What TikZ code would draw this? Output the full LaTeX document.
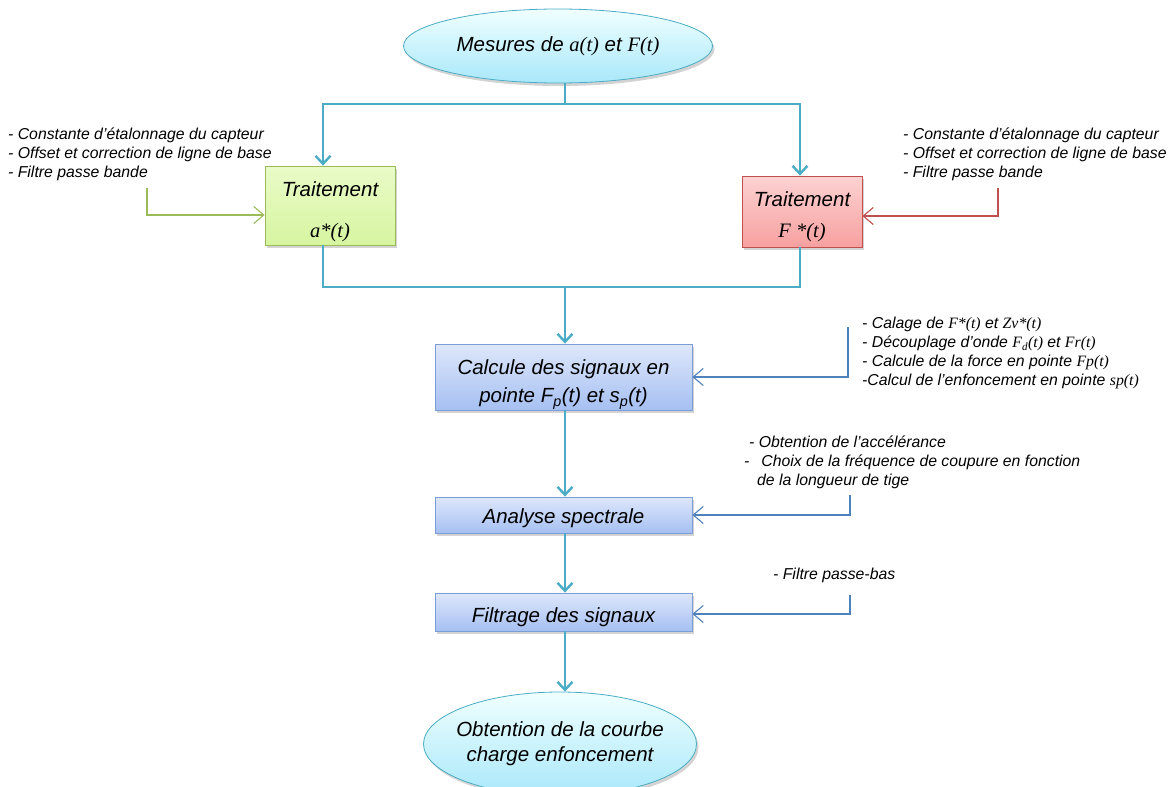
\documentclass[tikz,border=0pt]{standalone}
\usepackage{fontspec}
\setmainfont{Liberation Sans}
\newfontfamily\tms{Liberation Serif}
\usetikzlibrary{arrows.meta,shadows,shapes.geometric}

\definecolor{flowcyan}{RGB}{75,172,198}
\definecolor{notegreen}{RGB}{155,187,89}
\definecolor{notered}{RGB}{192,80,77}
\definecolor{noteblue}{RGB}{79,129,189}
\definecolor{boxblue}{RGB}{122,157,214}

% Times italic for the signals
\newcommand{\tm}[1]{{\tms\itshape #1}}
% pushes a box text down
\newcommand{\lowr}[1]{\rule{0pt}{#1}}

\tikzset{
  flow/.style={draw=flowcyan, line width=2.6pt, -{Straight Barb[length=8pt,width=15pt,line width=2.4pt]}},
  flowline/.style={draw=flowcyan, line width=2.6pt},
  note/.style={line width=1.1pt, -{Straight Barb[length=10pt,width=17pt,line width=1.1pt]}},
  endpt/.style={ellipse, draw=flowcyan, line width=0.8pt, top color=cyan!6, bottom color={rgb,255:red,169;green,232;blue,250},
    drop shadow={shadow xshift=2pt,shadow yshift=-3pt,opacity=0.35}, align=center,
    font=\fontsize{20.5}{25}\selectfont\itshape, inner sep=0pt},
  stepbox/.style={rectangle, draw=boxblue, line width=0.8pt, top color={rgb,255:red,222;green,231;blue,251},
    bottom color={rgb,255:red,166;green,192;blue,242}, minimum width=257pt, align=center,
    drop shadow={shadow xshift=2pt,shadow yshift=-3pt,opacity=0.35},
    font=\fontsize{20.5}{28}\selectfont\itshape, inner sep=0pt},
  list/.style={anchor=north west, align=left, inner sep=0pt, font=\fontsize{15.8}{19}\selectfont\itshape}
}

\begin{document}
\begin{tikzpicture}[x=1pt, y=-1pt]
    \useasboundingbox (0,0) rectangle (1171,787);

    % measurements
    \node[endpt, minimum width=309pt, minimum height=74pt] (mes) at (558,46)
        {Mesures de \tm{a(t)} et \tm{F(t)}};
    \coordinate (split) at (565,104);

    % the two treatments
    \node[rectangle, draw=notegreen, line width=0.8pt, top color={rgb,255:red,234;green,251;blue,200},
        bottom color={rgb,255:red,214;green,245;blue,160}, minimum width=130pt, minimum height=79pt,
        drop shadow={shadow xshift=2pt,shadow yshift=-3pt,opacity=0.35}, align=center, inner sep=0pt,
        font=\fontsize{20.5}{24}\selectfont\itshape] (trA) at (330,205.5)
        {\lowr{28pt}Traitement\\[17pt]\tm{a*(t)}};
    \node[rectangle, draw=notered, line width=0.8pt, top color={rgb,255:red,252;green,210;blue,210},
        bottom color={rgb,255:red,247;green,160;blue,160}, minimum width=120pt, minimum height=71pt,
        drop shadow={shadow xshift=2pt,shadow yshift=-3pt,opacity=0.35}, align=center, inner sep=0pt,
        font=\fontsize{20.5}{24}\selectfont\itshape] (trF) at (802,211.5)
        {\lowr{26pt}Traitement\\[7pt]\tm{F *(t)}};
    \draw[flowline] (mes.south -| split) -- (split);
    \draw[flow] (split) -| (trA.north -| 323,0);
    \draw[flow] (split) -| (trF.north -| 800,0);

    % notes of the treatments
    \node[list] (lstA) at (8,128) {- Constante d'étalonnage du capteur\\- Offset  et correction de ligne de base\\- Filtre passe bande};
    \node[list] (lstF) at (903,128) {- Constante d'étalonnage du capteur\\- Offset  et correction de ligne de base\\- Filtre passe bande};
    \coordinate (nA) at (147,188);
    \coordinate (nF) at (998,188);
    \draw[note, notegreen] (nA) |- ([yshift=-9.5pt]trA.west);
    \draw[note, notered] (nF) |- ([yshift=-4.5pt]trF.east);

    % join
    \coordinate (join) at (565,287);
    \node[stepbox, minimum height=66pt] (calc) at (563.5,377) {\lowr{30pt}Calcule des signaux en\\pointe F\textsubscript{p}(t) et s\textsubscript{p}(t)};
    \draw[flowline] (trA.south -| 323,0) |- (join);
    \draw[flowline] (trF.south -| 800,0) |- (join);
    \draw[flow] (join) -- (calc.north -| join);

    \node[list] (lstC) at (862,317) {- Calage de \tm{F*(t)}  et \tm{Zv*(t)}\\- Découplage d'onde \tm{F\textsubscript{d}(t)} et  \tm{Fr(t)}\\- Calcule de la force en pointe \tm{Fp(t)}\\-Calcul de l'enfoncement en pointe \tm{sp(t)}};
    \coordinate (nC) at (848,327);
    \draw[note, noteblue] (nC) |- (calc.east);

    % spectral analysis
    \node[stepbox, minimum height=36pt] (spec) at (563.5,515) {\lowr{22pt}Analyse spectrale};
    \draw[flow] (calc.south -| join) -- (spec.north -| join);
    \node[list] (lstS) at (744,436) {\hspace{5pt}- Obtention de l'accélérance\\-\hspace{12pt}Choix de la fréquence de coupure en fonction\\\hspace{13pt}de la longueur de tige};
    \coordinate (nS) at (850,495);
    \draw[note, noteblue] (nS) |- (spec.east);

    % filtering
    \node[stepbox, minimum height=38pt] (filt) at (563.5,612) {\lowr{25pt}Filtrage des signaux};
    \draw[flow] (spec.south -| join) -- (filt.north -| join);
    \node[list] (lstB) at (773,568) {- Filtre passe-bas};
    \coordinate (nB) at (850,595);
    \draw[note, noteblue] (nB) |- ([yshift=-2pt]filt.east);

    % result
    \node[endpt, minimum width=273pt, minimum height=104pt, inner xsep=-14pt] (res) at (560,744)
        {Obtention de la courbe\\charge enfoncement};
    \draw[flow] (filt.south -| join) -- (res.north -| join);
\end{tikzpicture}
\end{document}
